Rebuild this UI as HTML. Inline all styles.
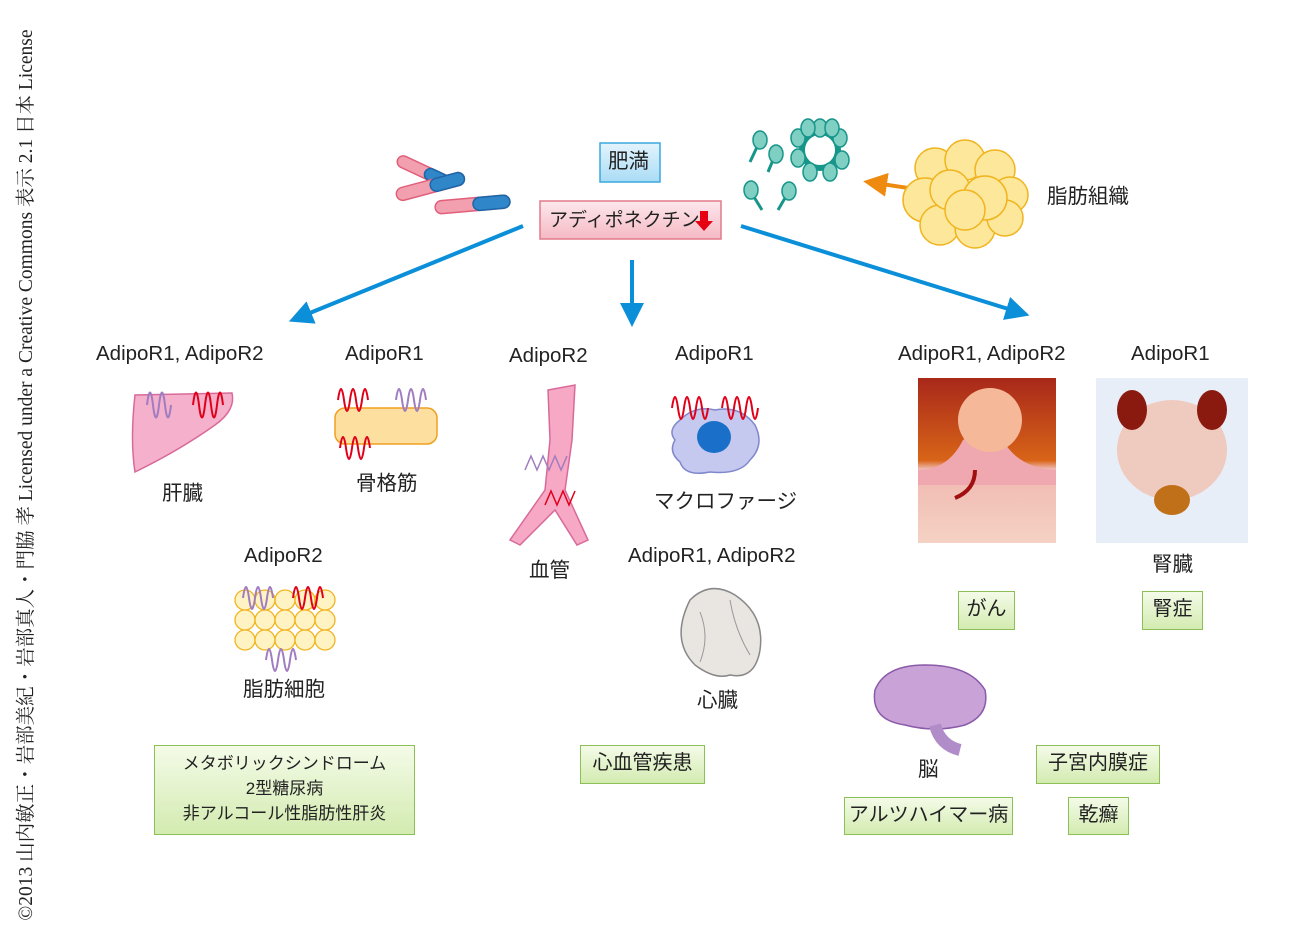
<!DOCTYPE html>
<html><head><meta charset="utf-8"><style>
body{margin:0;width:1290px;height:951px;background:#fff;position:relative;overflow:hidden;font-family:"Liberation Sans","Noto Sans CJK JP",sans-serif;}
.t{position:absolute;font-size:20.5px;color:#222;white-space:nowrap;line-height:22px;}
.g{position:absolute;box-sizing:border-box;border:1.5px solid #8cc056;background:linear-gradient(#f4fbe8,#d3ebb0);font-size:20px;color:#222;text-align:center;line-height:25px;padding-top:5px;white-space:nowrap;}
.cr{position:absolute;left:24px;top:475px;transform:translate(-50%,-50%) rotate(-90deg);font-family:"Liberation Serif","Noto Serif CJK SC",serif;font-size:19.5px;white-space:nowrap;color:#222;}
</style></head><body>
<div class="cr">©2013 山内敏正・岩部美紀・岩部真人・門脇 孝 Licensed under a Creative Commons 表示 2.1 日本 License</div>
<svg width="1290" height="951" style="position:absolute;left:0;top:0">
<defs>
<marker id="ab" markerWidth="6" markerHeight="6" refX="3" refY="3" orient="auto" markerUnits="strokeWidth"><path d="M0,0 L6,3 L0,6z" fill="#0a8fd8"/></marker>
<marker id="ao" markerWidth="6" markerHeight="6" refX="3" refY="3" orient="auto" markerUnits="strokeWidth"><path d="M0,0 L6,3 L0,6z" fill="#ee8a10"/></marker>
<linearGradient id="bl" x1="0" y1="0" x2="0" y2="1"><stop offset="0" stop-color="#e3f4fd"/><stop offset="1" stop-color="#a9dcf5"/></linearGradient>
<linearGradient id="pk" x1="0" y1="0" x2="0" y2="1"><stop offset="0" stop-color="#fde8ec"/><stop offset="1" stop-color="#f5b9c4"/></linearGradient>
<linearGradient id="can" x1="0" y1="0" x2="0" y2="1"><stop offset="0" stop-color="#a8281a"/><stop offset="0.5" stop-color="#d86418"/><stop offset="0.55" stop-color="#f0b8b0"/><stop offset="1" stop-color="#f5d2c4"/></linearGradient>
</defs>
<line x1="523" y1="226" x2="300" y2="317" stroke="#0a8fd8" stroke-width="4" marker-end="url(#ab)"/>
<line x1="632" y1="260" x2="632" y2="315" stroke="#0a8fd8" stroke-width="4" marker-end="url(#ab)"/>
<line x1="741" y1="226" x2="1018" y2="312" stroke="#0a8fd8" stroke-width="4" marker-end="url(#ab)"/>
<line x1="955" y1="195" x2="875" y2="183" stroke="#ee8a10" stroke-width="4" marker-end="url(#ao)"/>
<rect x="600" y="143" width="60" height="39" fill="url(#bl)" stroke="#3aa8de" stroke-width="1.5"/>
<rect x="540" y="201" width="181" height="38" fill="url(#pk)" stroke="#e27a8c" stroke-width="1.5"/>
<path d="M700,211 h8 v10 h5 l-9,10 l-9,-10 h5z" fill="#e60012"/>
<g stroke-width="1.5">
<g transform="rotate(25 425 172)"><rect x="395" y="166" width="60" height="12" rx="6" fill="#f2a0b0" stroke="#e0607a"/><rect x="425" y="166" width="30" height="12" rx="6" fill="#2f86c8" stroke="#1c66a8"/></g>
<g transform="rotate(-15 430 185)"><rect x="395" y="180" width="70" height="13" rx="6.5" fill="#f2a0b0" stroke="#e0607a"/><rect x="430" y="180" width="35" height="13" rx="6.5" fill="#2f86c8" stroke="#1c66a8"/></g>
<g transform="rotate(-5 472 204)"><rect x="435" y="198" width="75" height="13" rx="6.5" fill="#f2a0b0" stroke="#e0607a"/><rect x="473" y="198" width="37" height="13" rx="6.5" fill="#2f86c8" stroke="#1c66a8"/></g>
</g>
<g fill="#7fcfc2" stroke="#16958a" stroke-width="1.5">
<circle cx="820" cy="150" r="18" fill="none" stroke="#16958a" stroke-width="6"/>
<g><ellipse cx="820" cy="128" rx="7" ry="9"/><ellipse cx="840" cy="138" rx="7" ry="9"/><ellipse cx="842" cy="160" rx="7" ry="9"/><ellipse cx="830" cy="172" rx="7" ry="9"/><ellipse cx="810" cy="172" rx="7" ry="9"/><ellipse cx="798" cy="158" rx="7" ry="9"/><ellipse cx="798" cy="138" rx="7" ry="9"/><ellipse cx="808" cy="128" rx="7" ry="9"/><ellipse cx="832" cy="128" rx="7" ry="9"/></g>
<line x1="750" y1="162" x2="757" y2="147" stroke-width="3"/><ellipse cx="760" cy="140" rx="7" ry="9"/>
<line x1="768" y1="172" x2="773" y2="160" stroke-width="3"/><ellipse cx="776" cy="154" rx="7" ry="9"/>
<line x1="762" y1="210" x2="754" y2="197" stroke-width="3"/><ellipse cx="751" cy="190" rx="7" ry="9"/>
<line x1="778" y1="210" x2="785" y2="198" stroke-width="3"/><ellipse cx="789" cy="191" rx="7" ry="9"/>
</g>
<g fill="#fde79a" stroke="#f0b41e" stroke-width="1.5">
<circle cx="935" cy="168" r="20"/><circle cx="965" cy="160" r="20"/><circle cx="995" cy="170" r="20"/><circle cx="1010" cy="195" r="18"/><circle cx="925" cy="200" r="22"/><circle cx="940" cy="225" r="20"/><circle cx="975" cy="228" r="20"/><circle cx="1005" cy="218" r="18"/><circle cx="950" cy="190" r="20"/><circle cx="985" cy="198" r="22"/><circle cx="965" cy="210" r="20"/>
</g>
<path d="M135,395 L232,393 Q236,410 215,425 Q180,450 135,472 Q130,440 135,395z" fill="#f5b0cc" stroke="#d86a9a" stroke-width="1.5"/>
<path d="M147,405 q3,-25 6,0 q3,25 6,0 q3,-25 6,0 q3,25 6,0" fill="none" stroke="#a07cc0" stroke-width="2"/>
<path d="M193,405 q3,-25 6,0 q3,25 6,0 q3,-25 6,0 q3,25 6,0 q3,-25 6,0" fill="none" stroke="#e0001a" stroke-width="2"/>
<rect x="335" y="408" width="102" height="36" rx="10" fill="#fde0a0" stroke="#f0a020" stroke-width="1.5"/>
<path d="M338,400 q3,-22 6,0 q3,22 6,0 q3,-22 6,0 q3,22 6,0 q3,-22 6,0" fill="none" stroke="#e0001a" stroke-width="2"/>
<path d="M396,400 q3,-22 6,0 q3,22 6,0 q3,-22 6,0 q3,22 6,0 q3,-22 6,0" fill="none" stroke="#a07cc0" stroke-width="2"/>
<path d="M340,448 q3,-22 6,0 q3,22 6,0 q3,-22 6,0 q3,22 6,0 q3,-22 6,0" fill="none" stroke="#e0001a" stroke-width="2"/>
<path d="M548,390 L575,385 L572,440 L565,490 L588,540 L577,545 L555,510 L520,545 L510,540 L545,490 L550,440z" fill="#f6a8c4" stroke="#d86a9a" stroke-width="1.5"/>
<path d="M525,470 l6,-14 l6,14 l6,-14 l6,14 l6,-14 l6,14 l6,-14" fill="none" stroke="#a07cc0" stroke-width="1.5"/>
<path d="M545,505 l6,-14 l6,14 l6,-14 l6,14 l6,-14" fill="none" stroke="#e0001a" stroke-width="1.5"/>
<path d="M680,420 q15,-15 35,-10 q25,-5 40,15 q10,20 -5,35 q-10,15 -40,12 q-25,5 -30,-10 q-12,-10 -5,-22 q-8,-10 5,-20z" fill="#c5c8ef" stroke="#8088cc" stroke-width="1.5"/>
<ellipse cx="714" cy="437" rx="17" ry="16" fill="#1a70c8"/>
<path d="M672,408 q3,-22 6,0 q3,22 6,0 q3,-22 6,0 q3,22 6,0 q3,-22 6,0 q3,22 6,0" fill="none" stroke="#e0001a" stroke-width="2"/>
<path d="M722,408 q3,-22 6,0 q3,22 6,0 q3,-22 6,0 q3,22 6,0 q3,-22 6,0 q3,22 6,0" fill="none" stroke="#e0001a" stroke-width="2"/>
<g fill="#fff3c4" stroke="#f0b41e" stroke-width="1.3">
<circle cx="245" cy="600" r="10"/><circle cx="265" cy="600" r="10"/><circle cx="285" cy="600" r="10"/><circle cx="305" cy="600" r="10"/><circle cx="325" cy="600" r="10"/>
<circle cx="245" cy="620" r="10"/><circle cx="265" cy="620" r="10"/><circle cx="285" cy="620" r="10"/><circle cx="305" cy="620" r="10"/><circle cx="325" cy="620" r="10"/>
<circle cx="245" cy="640" r="10"/><circle cx="265" cy="640" r="10"/><circle cx="285" cy="640" r="10"/><circle cx="305" cy="640" r="10"/><circle cx="325" cy="640" r="10"/>
</g>
<path d="M243,598 q3,-22 6,0 q3,22 6,0 q3,-22 6,0 q3,22 6,0 q3,-22 6,0" fill="none" stroke="#a07cc0" stroke-width="2"/>
<path d="M293,598 q3,-22 6,0 q3,22 6,0 q3,-22 6,0 q3,22 6,0 q3,-22 6,0" fill="none" stroke="#e0001a" stroke-width="2"/>
<path d="M266,660 q3,-22 6,0 q3,22 6,0 q3,-22 6,0 q3,22 6,0 q3,-22 6,0" fill="none" stroke="#a07cc0" stroke-width="2"/>
<path d="M690,600 q20,-20 45,-5 q30,20 25,55 q-5,30 -30,25 q-15,5 -35,-10 q-25,-25 -5,-65z" fill="#e9e6e2" stroke="#888" stroke-width="1.5"/>
<path d="M700,612 q10,25 0,50 M730,600 q5,30 20,55" stroke="#999" fill="none"/>
<rect x="918" y="378" width="138" height="165" fill="url(#can)"/>
<path d="M918,470 q30,0 45,-30 q20,-15 40,0 q15,28 53,30 v15 h-138z" fill="#f0a8b0"/>
<circle cx="990" cy="420" r="32" fill="#f5b898"/>
<path d="M975,470 q0,20 -20,28" stroke="#a01010" stroke-width="4" fill="none"/>
<rect x="1096" y="378" width="152" height="165" fill="#e8eef8"/>
<ellipse cx="1172" cy="450" rx="55" ry="50" fill="#f0c0b0" opacity="0.8"/>
<ellipse cx="1132" cy="410" rx="15" ry="20" fill="#8a1a10"/>
<ellipse cx="1212" cy="410" rx="15" ry="20" fill="#8a1a10"/>
<ellipse cx="1172" cy="500" rx="18" ry="15" fill="#c07018"/>
<path d="M875,690 q10,-25 50,-25 q45,0 60,25 q5,25 -20,35 q-30,8 -60,0 q-35,-5 -30,-35z" fill="#c9a2d8" stroke="#8a5aa8" stroke-width="1.5"/>
<path d="M935,725 q5,20 25,25" stroke="#b08cc8" stroke-width="12" fill="none"/>
</svg>
<div class="t" style="left:608px;top:151px">肥満</div>
<div class="t" style="left:549px;top:210px;font-size:19px">アディポネクチン</div>
<div class="t" style="left:1047px;top:186px">脂肪組織</div>
<div class="t" style="left:96px;top:343px">AdipoR1, AdipoR2</div>
<div class="t" style="left:345px;top:343px">AdipoR1</div>
<div class="t" style="left:509px;top:345px">AdipoR2</div>
<div class="t" style="left:675px;top:343px">AdipoR1</div>
<div class="t" style="left:898px;top:343px">AdipoR1, AdipoR2</div>
<div class="t" style="left:1131px;top:343px">AdipoR1</div>
<div class="t" style="left:162px;top:483px">肝臓</div>
<div class="t" style="left:356px;top:473px">骨格筋</div>
<div class="t" style="left:654px;top:491px">マクロファージ</div>
<div class="t" style="left:529px;top:560px">血管</div>
<div class="t" style="left:244px;top:545px">AdipoR2</div>
<div class="t" style="left:628px;top:545px">AdipoR1, AdipoR2</div>
<div class="t" style="left:1152px;top:554px">腎臓</div>
<div class="t" style="left:243px;top:679px">脂肪細胞</div>
<div class="t" style="left:697px;top:690px">心臓</div>
<div class="t" style="left:918px;top:759px">脳</div>
<div class="g" style="left:154px;top:745px;width:261px;height:90px;font-size:17px">メタボリックシンドローム<br>2型糖尿病<br>非アルコール性脂肪性肝炎</div>
<div class="g" style="left:580px;top:745px;width:125px;height:39px">心血管疾患</div>
<div class="g" style="left:958px;top:591px;width:57px;height:39px">がん</div>
<div class="g" style="left:1142px;top:591px;width:61px;height:39px">腎症</div>
<div class="g" style="left:1036px;top:745px;width:124px;height:39px">子宮内膜症</div>
<div class="g" style="left:844px;top:797px;width:169px;height:38px">アルツハイマー病</div>
<div class="g" style="left:1068px;top:797px;width:61px;height:38px">乾癬</div>
</body></html>
